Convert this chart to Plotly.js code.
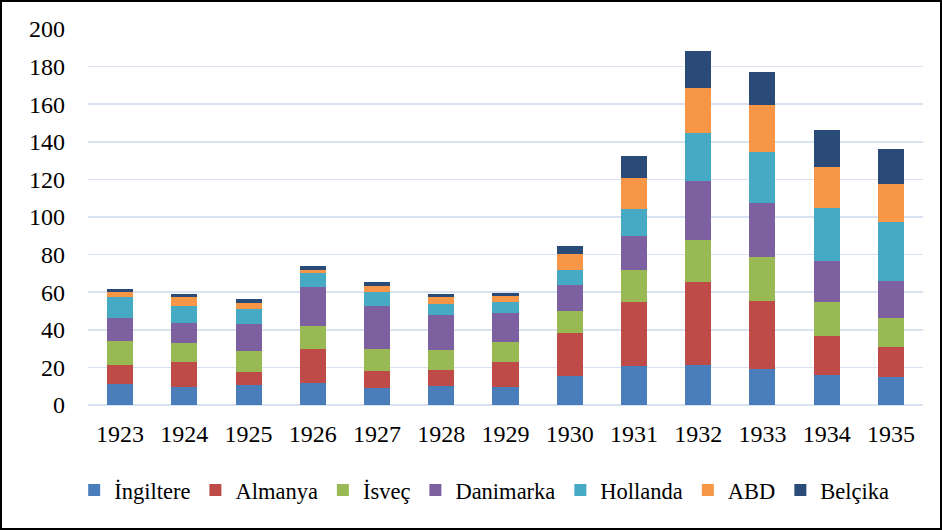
<!DOCTYPE html>
<html>
<head>
<meta charset="utf-8">
<script src="https://cdn.plot.ly/plotly-3.0.1.min.js"></script>
<style>
html,body{margin:0;padding:0;background:#fff;}
#wrap{position:relative;width:942px;height:530px;}
#chart{width:942px;height:530px;}
#frame{position:absolute;left:0;top:0;width:938px;height:526px;border:2px solid #000;pointer-events:none;}
</style>
</head>
<body>
<div id="wrap"><div id="chart"></div><div id="frame"></div></div>
<script>
const years = ['1923','1924','1925','1926','1927','1928','1929','1930','1931','1932','1933','1934','1935'];
const ingiltere = [11.2, 9.6, 10.6, 11.7, 9.0, 10.1, 9.6, 15.4, 20.7, 21.3, 19.2, 16.0, 14.9];
const almanya   = [10.1, 13.3, 7.0, 18.1, 9.1, 8.7, 13.3, 22.7, 34.1, 44.3, 36.1, 20.9, 16.0];
const isvec     = [12.7, 10.1, 11.1, 12.2, 11.7, 10.5, 10.6, 11.9, 17.0, 22.2, 23.4, 17.9, 15.6];
const danimarka = [12.5, 10.6, 14.6, 20.6, 23.0, 18.6, 15.3, 13.7, 18.3, 31.4, 28.8, 21.8, 19.5];
const hollanda  = [11.0, 9.2, 7.8, 7.6, 7.5, 6.0, 6.0, 8.1, 14.2, 25.5, 27.3, 28.4, 31.5];
const abd       = [2.6, 4.7, 3.3, 1.8, 3.2, 3.6, 3.2, 8.5, 16.5, 23.9, 24.8, 21.6, 20.1];
const belcika   = [1.6, 1.7, 2.0, 1.9, 1.9, 1.7, 1.6, 4.3, 11.7, 19.7, 17.6, 19.7, 18.6];
const seriesNames = ['İngiltere','Almanya','İsveç','Danimarka','Hollanda','ABD','Belçika'];
const seriesData = [ingiltere, almanya, isvec, danimarka, hollanda, abd, belcika];
const colors = ['#4A7EBB','#BE4B48','#98B954','#7D60A0','#46AAC5','#F79646','#2A4A77'];

const traces = seriesNames.map((n,i)=>({
  type:'bar', name:n, x:years, y:seriesData[i],
  marker:{color:colors[i], line:{width:0}},
  hoverinfo:'x+y+name'
}));

const F = '"Liberation Serif", "Times New Roman", Times, serif';
const layout = {
  width:942, height:530,
  margin:{l:88, r:19, t:29, b:125},
  barmode:'stack', bargap:0.595,
  paper_bgcolor:'#fff', plot_bgcolor:'#fff',
  font:{family:F, size:24, color:'#000'},
  xaxis:{type:'category', showgrid:false, zeroline:false, showline:false, ticks:'',
         tickfont:{family:F, size:24, color:'#000'}, ticklabelstandoff:12},
  yaxis:{range:[0,200], dtick:20, tick0:0, showgrid:true, gridcolor:'#D9E2F1', gridwidth:1.5,
         zeroline:true, zerolinecolor:'#D9E2F1', zerolinewidth:1.5, showline:false, ticks:'',
         tickfont:{family:F, size:24, color:'#000'}, ticklabelstandoff:22},
  showlegend:true,
  legend:{orientation:'h', xref:'container', yref:'container', x:0.514, xanchor:'center',
          y:0.075, yanchor:'middle', font:{family:F, size:22.5, color:'#000'},
          itemwidth:30, tracegroupgap:0, traceorder:'normal', bgcolor:'rgba(0,0,0,0)'}
};
Plotly.newPlot('chart', traces, layout, {displayModeBar:false, staticPlot:true});
</script>
</body>
</html>
